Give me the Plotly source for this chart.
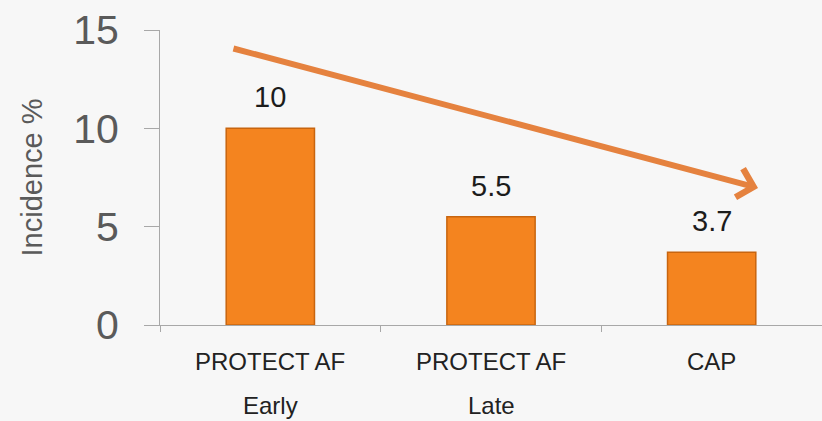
import plotly.graph_objects as go

# Incidence by cohort
categories = ["PROTECT AF Early", "PROTECT AF Late", "CAP"]
label_line1 = ["PROTECT AF", "PROTECT AF", "CAP"]
label_line2 = ["Early", "Late", ""]
incidence = [10, 5.5, 3.7]
value_labels = ["10", "5.5", "3.7"]
y_ticks = [0, 5, 10, 15]

BAR_FILL = "#F4841F"
BAR_EDGE = "#C8650F"
ARROW = "#E5823F"
BG = "#F7F7F7"
FONT = "Liberation Sans, Arial"

fig = go.Figure()
fig.add_trace(go.Bar(
    x=categories,
    y=incidence,
    width=0.4,
    marker=dict(color=BAR_FILL, line=dict(color=BAR_EDGE, width=1.5)),
    hoverinfo="skip",
))

annotations = []

# value labels above each bar
for cat, val, txt in zip(categories, incidence, value_labels):
    annotations.append(dict(x=cat, y=val, xref="x", yref="y", text=txt,
                            showarrow=False, yanchor="bottom", yshift=13,
                            font=dict(family=FONT, size=29, color="#1c1c1c")))

# category labels set in two rows below the axis
for cat, l1, l2 in zip(categories, label_line1, label_line2):
    annotations.append(dict(x=cat, y=0, xref="x", yref="paper", text=l1,
                            showarrow=False, yanchor="middle", yshift=-36,
                            font=dict(family=FONT, size=24, color="#222222")))
    if l2:
        annotations.append(dict(x=cat, y=0, xref="x", yref="paper", text=l2,
                                showarrow=False, yanchor="middle", yshift=-80,
                                font=dict(family=FONT, size=24, color="#222222")))

# downward trend arrow across the cohorts
annotations.append(dict(
    x=2.21, y=6.97, xref="x", yref="y",
    ax=-0.174, ay=14.08, axref="x", ayref="y",
    text="", showarrow=True, arrowhead=4, arrowsize=0.95,
    arrowwidth=6, arrowcolor=ARROW,
))

fig.update_layout(
    width=822, height=421,
    margin=dict(l=160, r=0, t=30, b=96),
    paper_bgcolor=BG, plot_bgcolor=BG,
    showlegend=False,
    bargap=0.6,
    annotations=annotations,
    xaxis=dict(
        type="category", range=[-0.5, 2.5],
        showticklabels=False,
        showline=True, linecolor="#A8A8A8", linewidth=1,
        ticks="outside", tickson="boundaries", ticklen=6, tickcolor="#A8A8A8",
        showgrid=False, zeroline=False,
    ),
    yaxis=dict(
        range=[0, 15], tickvals=y_ticks,
        showline=True, linecolor="#A8A8A8", linewidth=1,
        ticks="outside", ticklen=15, tickcolor="#A8A8A8",
        ticklabelstandoff=17,
        tickfont=dict(family=FONT, size=41, color="#5a5a5a"),
        showgrid=False, zeroline=False,
        title=dict(text="Incidence %", standoff=22,
                   font=dict(family=FONT, size=29, color="#5a5a5a")),
    ),
)

fig.write_html("out.html")
